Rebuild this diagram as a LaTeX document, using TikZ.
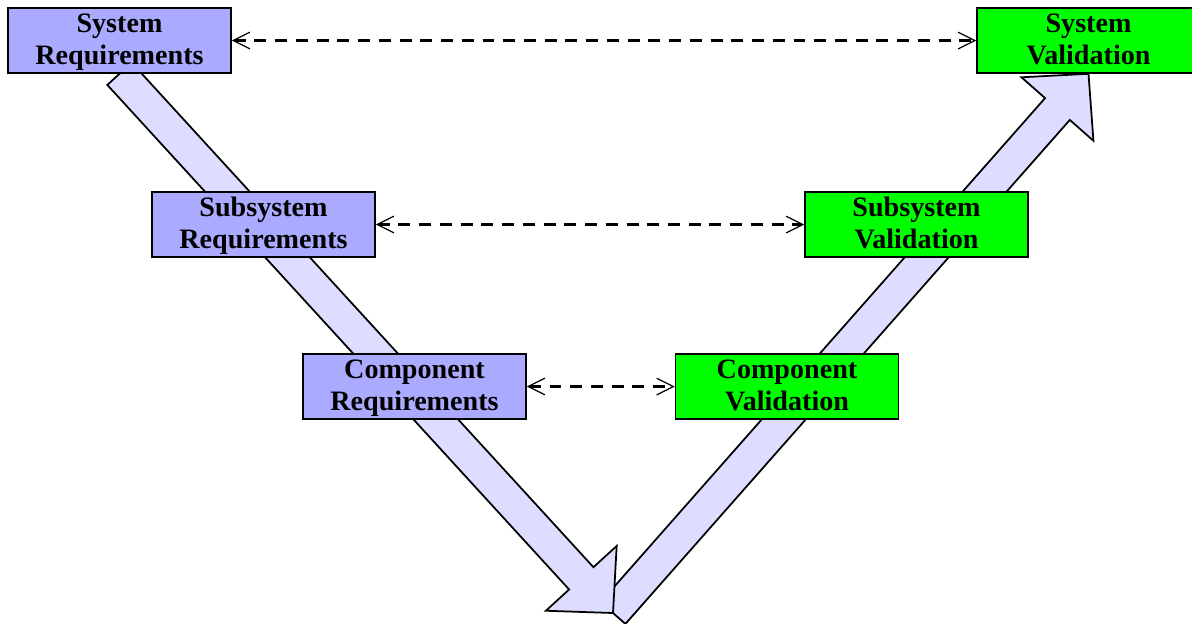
\documentclass[tikz,border=0pt]{standalone}
\usepackage{fontspec}
\setmainfont{Liberation Serif}
\usetikzlibrary{calc,arrows.meta,backgrounds}
\definecolor{reqblue}{RGB}{170,170,255}
\definecolor{valgreen}{RGB}{0,255,0}
\definecolor{flowblue}{RGB}{221,221,255}
% broad arrow of the V, from #1 to its tip at #2
\newcommand\vleg[2]{%
 \path (#1) coordinate (t0) (#2) coordinate (t1) ($(#2)!0.94cm!(#1)$) coordinate (hb);
 \draw[flow] ($(t0)!0.33cm!90:(t1)$) -- ($(hb)!0.33cm!90:(t1)$) -- ($(hb)!0.96cm!90:(t1)$)
  -- (t1) -- ($(hb)!0.96cm!-90:(t1)$) -- ($(hb)!0.33cm!-90:(t1)$) -- ($(t0)!0.33cm!-90:(t1)$) -- cycle;
}
\begin{document}
\begin{tikzpicture}[x=0.02cm,y=-0.02cm,
 box/.style={draw=black,line width=0.9pt,minimum width=4.46cm,minimum height=1.3cm,inner sep=0pt,
  align=center,font=\fontsize{16}{18.5}\selectfont\bfseries,text height=31pt,text depth=3.2pt},
 req/.style={box,fill=reqblue},
 val/.style={box,fill=valgreen},
 flow/.style={draw=black,line width=1pt,fill=flowblue,line join=miter},
 link/.style={line width=1.4pt,dash pattern=on 6.8pt off 5pt,<->,
  >={Straight Barb[length=9.5pt,width=9.5pt,line width=0.7pt]}}]
 \useasboundingbox (0,0) rectangle (1192,623);
 \node[req] (sysreq) at (119.5,40.5) {System\\Requirements};
 \node[req] (subreq) at (263.5,224.5) {Subsystem\\Requirements};
 \node[req] (compreq) at (414.5,386.5) {Component\\Requirements};
 \node[val] (compval) at (787,386.5) {Component\\Validation};
 \node[val] (subval) at (916.5,224.5) {Subsystem\\Validation};
 \node[val] (sysval) at (1088.5,40.5) {System\\Validation};
 \coordinate (vbase) at (613,613);
 \begin{pgfonlayer}{background}
  \vleg{vbase}{sysval.south}
  \vleg{sysreq.south}{vbase}
 \end{pgfonlayer}
 \draw[link] (sysreq) -- (sysval);
 \draw[link] (subreq) -- (subval);
 \draw[link] (compreq) -- (compval);
\end{tikzpicture}
\end{document}
